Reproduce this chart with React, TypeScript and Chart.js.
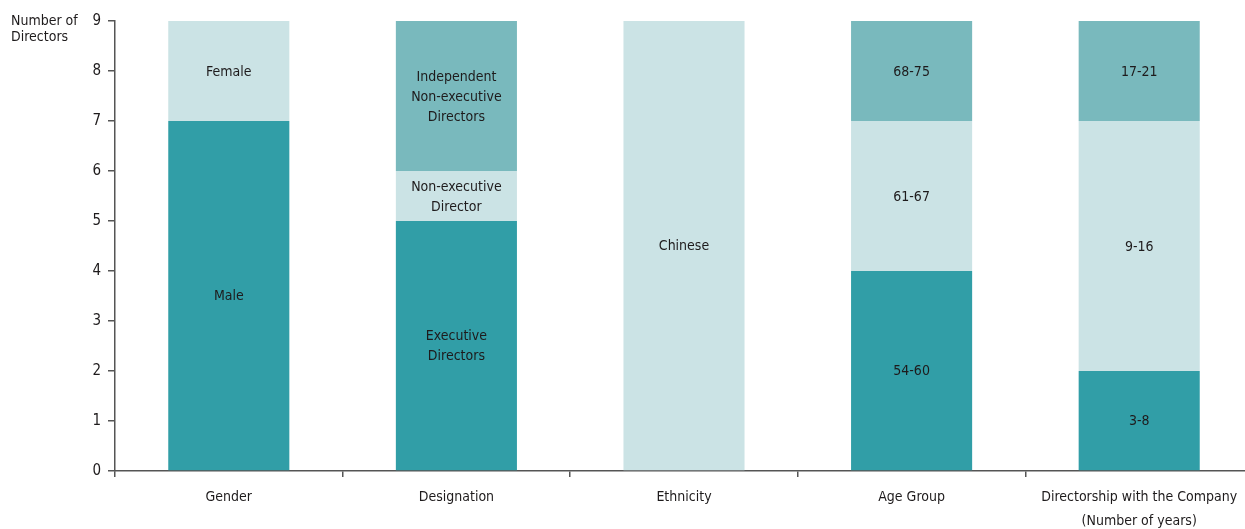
import React, { useEffect, useRef } from "react";
import { Chart, registerables } from "chart.js";

Chart.register(...registerables);

const categories: (string | string[])[] = [
  "Gender",
  "Designation",
  "Ethnicity",
  "Age Group",
  ["Directorship with the Company", "(Number of years)"],
];

const bottomValues = [7, 5, null, 4, 2];
const bottomLabels = ["Male", "Executive\nDirectors", "", "54-60", "3-8"];
const middleValues = [2, 1, 9, 3, 5];
const middleLabels = ["Female", "Non-executive\nDirector", "Chinese", "61-67", "9-16"];
const topValues = [null, 3, null, 2, 2];
const topLabels = ["", "Independent\nNon-executive\nDirectors", "", "68-75", "17-21"];

const yTicks = [0, 1, 2, 3, 4, 5, 6, 7, 8, 9];
const yTitle = ["Number of", "Directors"];

const FONT = "'DejaVu Sans Condensed', 'Open Sans', sans-serif";
const TEXT = "#1e1b1c";
const AXIS = "#555555";

const segLabels = [bottomLabels, middleLabels, topLabels];

const barLabelPlugin = {
  id: "barLabels",
  afterDatasetsDraw(chart: any) {
    const ctx = chart.ctx;
    ctx.save();
    ctx.fillStyle = TEXT;
    ctx.font = `14px ${FONT}`;
    ctx.textAlign = "center";
    ctx.textBaseline = "middle";
    chart.data.datasets.forEach((ds: any, di: number) => {
      const meta = chart.getDatasetMeta(di);
      meta.data.forEach((bar: any, i: number) => {
        const v = ds.data[i];
        const text = segLabels[di][i];
        if (v == null || !text) return;
        const lines = text.split("\n");
        const cy = (bar.y + bar.base) / 2 + 1;
        const lh = 20;
        lines.forEach((ln: string, k: number) => {
          ctx.fillText(ln, bar.x, cy + (k - (lines.length - 1) / 2) * lh);
        });
      });
    });
    ctx.restore();
  },
};

const yTitlePlugin = {
  id: "yTitle",
  afterDraw(chart: any) {
    const ctx = chart.ctx;
    ctx.save();
    ctx.fillStyle = TEXT;
    ctx.font = `14px ${FONT}`;
    ctx.textAlign = "left";
    ctx.textBaseline = "middle";
    yTitle.forEach((t, k) => ctx.fillText(t, 11, 21 + k * 16));
    ctx.restore();
  },
};

export default function App() {
  const ref = useRef<HTMLCanvasElement>(null);
  useEffect(() => {
    if (!ref.current) return;
    const chart = new Chart(ref.current, {
      type: "bar",
      data: {
        labels: categories,
        datasets: [
          { data: bottomValues, backgroundColor: "#319ea7" },
          { data: middleValues, backgroundColor: "#cbe3e5" },
          { data: topValues, backgroundColor: "#79b9bd" },
        ],
      },
      options: {
        animation: false,
        responsive: true,
        maintainAspectRatio: false,
        layout: { padding: { top: 21, right: 0, left: 0, bottom: 0 } },
        datasets: {
          bar: { categoryPercentage: 1, barPercentage: 0.532, borderWidth: 0 },
        },
        plugins: {
          legend: { display: false },
          tooltip: { enabled: false },
          title: { display: false },
        },
        scales: {
          x: {
            stacked: true,
            grid: {
              offset: true,
              drawOnChartArea: false,
              drawTicks: true,
              tickLength: 6,
              color: AXIS,
              lineWidth: 1.5,
            },
            border: { display: true, color: AXIS, width: 1.5 },
            ticks: {
              color: TEXT,
              font: { family: FONT, size: 14, lineHeight: 1.72 },
              padding: 8,
              maxRotation: 0,
              autoSkip: false,
            },
            afterFit: (s: any) => {
              s.height = 58;
            },
          },
          y: {
            stacked: true,
            min: 0,
            max: 9,
            afterBuildTicks: (s: any) => {
              s.ticks = yTicks.map((v) => ({ value: v }));
            },
            grid: {
              drawOnChartArea: false,
              drawTicks: true,
              tickLength: 7,
              color: AXIS,
              lineWidth: 1.5,
            },
            border: { display: true, color: AXIS, width: 1.5 },
            ticks: {
              color: TEXT,
              font: { family: FONT, size: 15 },
              padding: 7,
            },
            afterFit: (s: any) => {
              s.width = 115;
            },
          },
        },
      },
      plugins: [barLabelPlugin, yTitlePlugin],
    });
    return () => chart.destroy();
  }, []);

  return (
    <div style={{ position: "fixed", left: 0, top: 0, width: 1245, height: 529, overflow: "hidden", background: "#ffffff" }}>
      <div style={{ position: "relative", width: 1253, height: 529 }}>
        <canvas ref={ref} />
      </div>
    </div>
  );
}
